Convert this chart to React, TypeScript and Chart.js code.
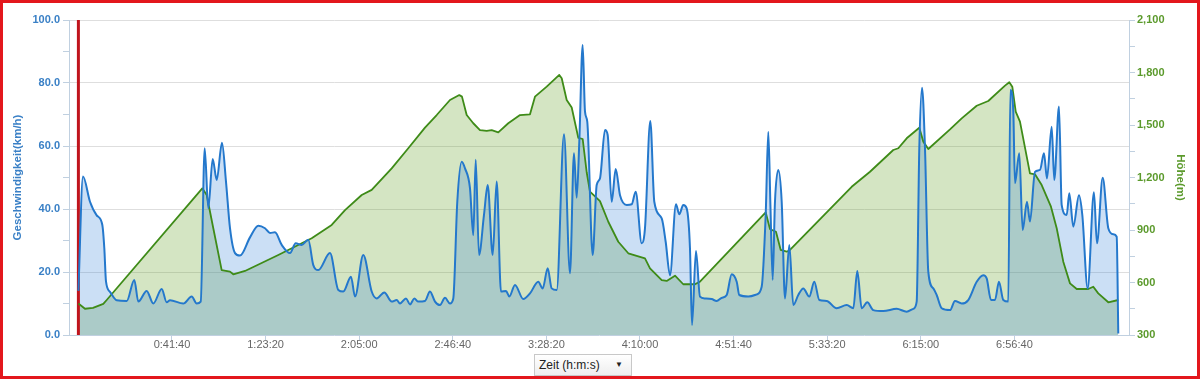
import React, { useEffect, useRef } from "react";
import { Chart, registerables } from "chart.js";

Chart.register(...registerables);

// Zeit in Sekunden / Geschwindigkeit (km/h)
const speedTimes = [
  0, 123, 310, 489, 638, 692, 737, 844, 1023, 1290, 1493, 1600, 1824, 2000, 2225, 2358, 2447, 2802, 3026, 3160,
  3267, 3373, 3469, 3587, 3694, 3835, 3942, 4049, 4183, 4316, 4583, 4805, 4984, 5117, 5251, 5430, 5652, 5804, 5964, 6140,
  6274, 6407, 6720, 6942, 7075, 7281, 7388, 7609, 7834, 7967, 8170, 8368, 8501, 8590, 8750, 8857, 8972, 9078, 9257, 9391,
  9525, 9658, 9792, 9925, 10013, 10120, 10238, 10326, 10459, 10547, 10612, 10700, 10833, 10932, 11066, 11172, 11287, 11421, 11509, 11661,
  11883, 12062, 12283, 12401, 12535, 12641, 12775, 12970, 13130, 13237, 13309, 13379, 13469, 13531, 13592, 13736, 13843, 13931, 14065, 14137,
  14244, 14351, 14466, 14645, 14778, 14885, 15045, 15133, 15275, 15382, 15580, 15686, 15801, 15961, 16049, 16156, 16247, 16335, 16389, 16495,
  16602, 16736, 16915, 17048, 17182, 17316, 17449, 17583, 17652, 17893, 18117, 18250, 18357, 18427, 18486, 18544, 18605, 18694, 18785, 18873,
  18988, 19094, 19228, 19362, 19521, 19655, 19789, 19986, 20253, 20521, 20697, 20804, 20921, 21071, 21231, 21498, 21856, 22123, 22300, 22390,
  22460, 22532, 22612, 22700, 22834, 22924, 23058, 23280, 23413, 23592, 23768, 23993, 24169, 24260, 24375, 24481, 24588, 24703, 24837, 24892,
  24971, 25015, 25130, 25221, 25336, 25416, 25550, 25683, 25790, 25870, 25996, 26065, 26191, 26263, 26397, 26466, 26573, 26725, 26814, 26957,
  27125, 27205, 27358, 27508, 27641, 27732, 27775,
];
const speedValues = [
  14, 50.3, 42.3, 38, 35, 27.6, 17, 13.7, 11, 10.8, 17.5, 10.6, 14, 10, 14.6, 10.4, 11, 10, 12.2, 10,
  10.6, 59.3, 40.2, 55.9, 49.2, 61, 48.7, 33.9, 26, 25.2, 31, 34.7, 33.9, 32.4, 32.6, 28.6, 26, 29.1, 28.6, 30.2,
  22.2, 20.6, 26, 14.3, 13.8, 18.5, 12.2, 25.4, 13.8, 11.6, 13.5, 10.6, 11.1, 10, 11.6, 9.7, 11.6, 10.6, 10.8, 13.8,
  10.6, 9.5, 11.8, 10, 11.6, 42.3, 55, 52.9, 46.6, 31.7, 55.6, 25.4, 38.1, 47.6, 25.4, 48.7, 13.8, 14, 12.2, 15.9,
  11.4, 13.2, 16.9, 14.8, 21.2, 14.8, 14.3, 63.7, 19.6, 57.7, 43.6, 61.4, 92.1, 70.9, 67.7, 25.4, 47.6, 49.7, 65.1, 63.5,
  42.3, 52.7, 44.4, 41.3, 41.5, 45.5, 29.1, 33.9, 67.9, 42.3, 37, 29.6, 19, 41.5, 38.3, 41.3, 40.2, 27.5, 3.2, 26.7,
  12.2, 11.6, 11.4, 10.8, 11.8, 12.7, 19.3, 16.9, 12.7, 12.2, 12.9, 15.3, 38.1, 64.5, 40, 17.5, 42.3, 52.4, 42.3, 11.6,
  28.6, 9.5, 12.7, 14.8, 12.2, 16.9, 11.1, 10.8, 8.5, 9.5, 8.5, 20.3, 8.5, 10.4, 7.9, 7.6, 8.3, 7.4, 8.3, 10.6,
  59.3, 78.5, 59.3, 20.1, 14.8, 12.7, 8.5, 7.9, 10.8, 10, 11.1, 16.9, 19, 18, 11.1, 11.1, 16.9, 11.1, 10.6, 77.8,
  70.9, 48.2, 57.7, 33.3, 42.3, 36, 51.8, 52.4, 57.7, 49.7, 66.1, 49.2, 72.5, 41.3, 38.1, 45, 34.4, 44.4, 38.1, 14.8,
  45.3, 29.1, 49.9, 33.9, 32, 31.2, 0.5,
];

// Zeit in Sekunden / Höhe (m)
const heightTimes = [
  0, 176, 390, 665, 756, 3309, 3427, 3603, 3827, 4049, 4137, 4450, 5339, 6231, 6765, 7121, 7567, 7834, 8368, 8811,
  9257, 9570, 9925, 10173, 10245, 10371, 10547, 10726, 10905, 11039, 11215, 11482, 11795, 12062, 12195, 12508, 12844, 12909, 13042, 13176,
  13352, 13469, 13576, 13664, 13931, 14153, 14420, 14687, 15133, 15267, 15580, 15713, 15935, 16156, 16469, 16602, 18357, 18472, 18632, 18758,
  18918, 19006, 20654, 21143, 21765, 21899, 22123, 22460, 22567, 22700, 23280, 23592, 23993, 24302, 24749, 24864, 24944, 25035, 25149, 25416,
  25550, 25729, 25977, 26130, 26306, 26485, 26664, 26973, 27107, 27240, 27508, 27775,
];
const heightValues = [
  480, 450, 455, 478, 500, 1138, 1100, 910, 671, 662, 647, 666, 757, 853, 929, 1014, 1100, 1129, 1252, 1367,
  1485, 1557, 1643, 1671, 1662, 1557, 1510, 1471, 1466, 1471, 1458, 1510, 1557, 1561, 1662, 1719, 1786, 1767, 1643, 1600,
  1427, 1420, 1230, 1119, 1065, 947, 833, 767, 738, 681, 614, 609, 639, 590, 590, 605, 1001, 905, 890, 786,
  776, 786, 1147, 1233, 1357, 1367, 1424, 1484, 1405, 1363, 1475, 1538, 1610, 1637, 1725, 1744, 1719, 1576, 1519, 1224,
  1218, 1157, 1033, 910, 719, 595, 563, 563, 576, 538, 487, 500,
];

const timeTicks = [2500, 5000, 7500, 10000, 12500, 15000, 17500, 20000, 22500, 25000];
const speedTicks = [0, 10, 20, 30, 40, 50, 60, 70, 80, 90, 100];
const heightTicks = [300, 450, 600, 750, 900, 1050, 1200, 1350, 1500, 1650, 1800, 1950, 2100];
const cursorTime = 0;

const FONT = "'Liberation Sans', Arial, sans-serif";
const BLUE_TEXT = "#3a80c6";
const GREEN_TEXT = "#5b9a2c";

function fmtTime(s: number): string {
  const h = Math.floor(s / 3600);
  const m = Math.floor((s % 3600) / 60);
  const sec = Math.round(s % 60);
  return `${h}:${String(m).padStart(2, "0")}:${String(sec).padStart(2, "0")}`;
}

export default function App() {
  const canvasRef = useRef<HTMLCanvasElement | null>(null);

  useEffect(() => {
    const canvas = canvasRef.current;
    if (!canvas) return;

    const cursorPlugin = {
      id: "cursorLine",
      beforeDatasetsDraw(chart: any) {
        const { ctx, chartArea, scales } = chart;
        const x = scales.x.getPixelForValue(cursorTime);
        ctx.save();
        ctx.strokeStyle = "#c0141c";
        ctx.lineWidth = 3;
        ctx.beginPath();
        ctx.moveTo(x, chartArea.top);
        ctx.lineTo(x, chartArea.bottom);
        ctx.stroke();
        ctx.restore();
      },
    };

    const chart = new Chart(canvas, {
      type: "line",
      data: {
        datasets: [
          {
            label: "Geschwindigkeit",
            data: speedTimes.map((t, i) => ({ x: t, y: speedValues[i] })),
            yAxisID: "y",
            borderColor: "#2478cc",
            borderWidth: 2,
            backgroundColor: "rgba(47,126,216,0.25)",
            fill: "start",
            pointRadius: 0,
            cubicInterpolationMode: "monotone",
          },
          {
            label: "Höhe",
            data: heightTimes.map((t, i) => ({ x: t, y: heightValues[i] })),
            yAxisID: "y2",
            borderColor: "#3e8b18",
            borderWidth: 1.8,
            backgroundColor: "rgba(100,160,40,0.28)",
            fill: "start",
            pointRadius: 0,
            tension: 0,
            borderJoinStyle: "round",
          },
        ],
      },
      options: {
        responsive: false,
        animation: false,
        devicePixelRatio: 1,
        layout: { padding: { top: 20, left: 0, right: 0, bottom: 0 } },
        plugins: {
          legend: { display: false },
          tooltip: { enabled: false },
          filler: { drawTime: "beforeDatasetsDraw" },
        } as any,
        scales: {
          x: {
            type: "linear",
            min: -251,
            max: 28061,
            afterBuildTicks: (a: any) => {
              a.ticks = timeTicks.map((v) => ({ value: v }));
            },
            afterFit: (s: any) => {
              s.height = 44;
            },
            ticks: {
              callback: (v: any) => fmtTime(Number(v)),
              color: "#666666",
              font: { family: FONT, size: 11 },
              maxRotation: 0,
              autoSkip: false,
              padding: -2,
            },
            grid: { color: "transparent", tickColor: "#c0d0e0", tickLength: 5 },
            border: { color: "#c0d0e0" },
          },
          y: {
            position: "left",
            min: 0,
            max: 100,
            afterBuildTicks: (a: any) => {
              a.ticks = speedTicks.map((v) => ({ value: v }));
            },
            afterFit: (s: any) => {
              s.width = 69;
            },
            ticks: {
              callback: (v: any) => (Number(v) % 20 === 0 ? Number(v).toFixed(1) : ""),
              color: BLUE_TEXT,
              font: { family: FONT, size: 11, weight: "bold" },
              padding: 3,
              autoSkip: false,
            },
            grid: {
              color: (c: any) =>
                c.tick && c.tick.value % 20 === 0 && c.tick.value > 0 ? "#dedede" : "transparent",
              tickColor: "#c0d0e0",
              tickLength: 6,
            },
            border: { color: "#c0d0e0" },
            title: {
              display: true,
              text: "Geschwindigkeit(km/h)",
              color: BLUE_TEXT,
              font: { family: FONT, size: 11.5, weight: "bold" },
              padding: { top: 11, bottom: 0 },
            },
          },
          y2: {
            position: "right",
            min: 300,
            max: 2100,
            afterBuildTicks: (a: any) => {
              a.ticks = heightTicks.map((v) => ({ value: v }));
            },
            afterFit: (s: any) => {
              s.width = 71;
            },
            ticks: {
              callback: (v: any) => (Number(v) % 300 === 0 ? Number(v).toLocaleString("en-US") : ""),
              color: GREEN_TEXT,
              font: { family: FONT, size: 11, weight: "bold" },
              padding: 2,
              autoSkip: false,
            },
            grid: { drawOnChartArea: false, tickColor: "#c0d0e0", tickLength: 6 },
            border: { color: "#c0d0e0" },
            title: {
              display: true,
              text: "Höhe(m)",
              color: GREEN_TEXT,
              font: { family: FONT, size: 11.5, weight: "bold" },
              padding: { top: 13, bottom: 0 },
            },
          },
        },
      } as any,
      plugins: [cursorPlugin],
    });

    return () => chart.destroy();
  }, []);

  return (
    <div style={{ position: "fixed", left: 0, top: 0, width: 1200, height: 379, background: "#ffffff", overflow: "hidden" }}>
      <canvas ref={canvasRef} width={1200} height={379} style={{ position: "absolute", left: 0, top: 0, width: 1200, height: 379 }} />
      <div
        style={{
          position: "absolute",
          left: 534,
          top: 354,
          width: 98,
          height: 22,
          boxSizing: "border-box",
          border: "1px solid #c8c8c8",
          background: "linear-gradient(#ffffff, #eeeeee)",
          fontFamily: FONT,
          fontSize: 12,
          color: "#222",
          lineHeight: "20px",
          paddingLeft: 4,
        }}
      >
        Zeit (h:m:s)
        <span style={{ position: "absolute", right: 8, top: 0, fontSize: 8 }}>▼</span>
      </div>
      <div
        style={{
          position: "absolute",
          left: 0,
          top: 0,
          width: 1200,
          height: 379,
          boxSizing: "border-box",
          border: "3px solid #e3171d",
          pointerEvents: "none",
        }}
      />
    </div>
  );
}
